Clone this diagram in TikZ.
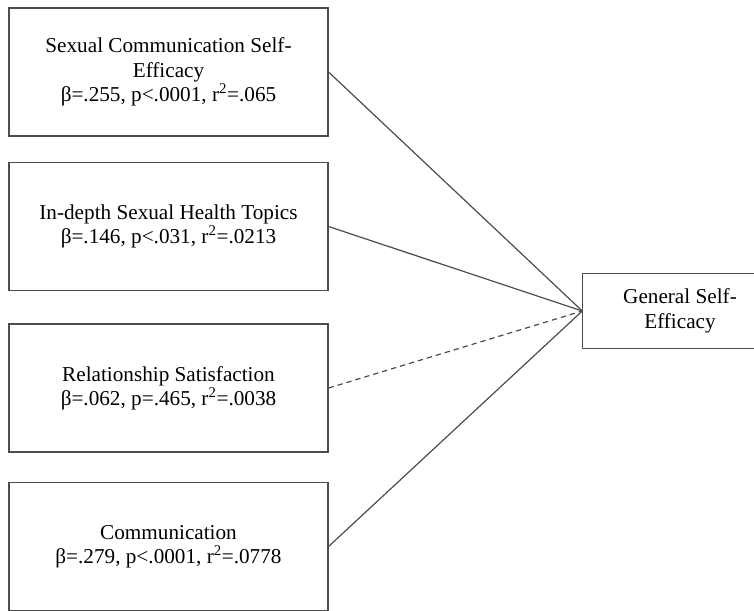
\documentclass[tikz,border=0pt]{standalone}
\usepackage{fontspec}
\setmainfont{Liberation Serif}
\begin{document}
\begin{tikzpicture}[x=0.75pt, y=-0.75pt,
  every node/.style={draw=black!70, line width=1.1pt, align=center, font=\fontsize{15.9}{18.3}\selectfont},
  pred/.style={minimum width=239pt, minimum height=96pt},
  path/.style={draw=black!70, line width=0.9pt}]
\useasboundingbox (0,0) rectangle (754,611);

\node[pred] (scse) at (168.5,72) {Sexual Communication Self-\\Efficacy\\β=.255, p<.0001, r\textsuperscript{2}=.065};
\node[pred] (topics) at (168.5,226.5) {In-depth Sexual Health Topics\\β=.146, p<.031, r\textsuperscript{2}=.0213};
\node[pred] (relsat) at (168.5,388) {Relationship Satisfaction\\β=.062, p=.465, r\textsuperscript{2}=.0038};
\node[pred] (comm) at (168.5,546.5) {Communication\\β=.279, p<.0001, r\textsuperscript{2}=.0778};

% outcome box runs past the page edge
\node[draw=none, minimum width=145.5pt, minimum height=55.5pt] (gse) at (680,311) {General Self-\\Efficacy};
\draw[draw=black!70, line width=1.1pt] (gse.north west) rectangle ([xshift=30pt]gse.south east);

\draw[path] (scse.east)--(gse.west);
\draw[path] (topics.east)--(gse.west);
\draw[path, dash pattern=on 4pt off 3pt] (relsat.east)--(gse.west);
\draw[path] (comm.east)--(gse.west);
\end{tikzpicture}
\end{document}
